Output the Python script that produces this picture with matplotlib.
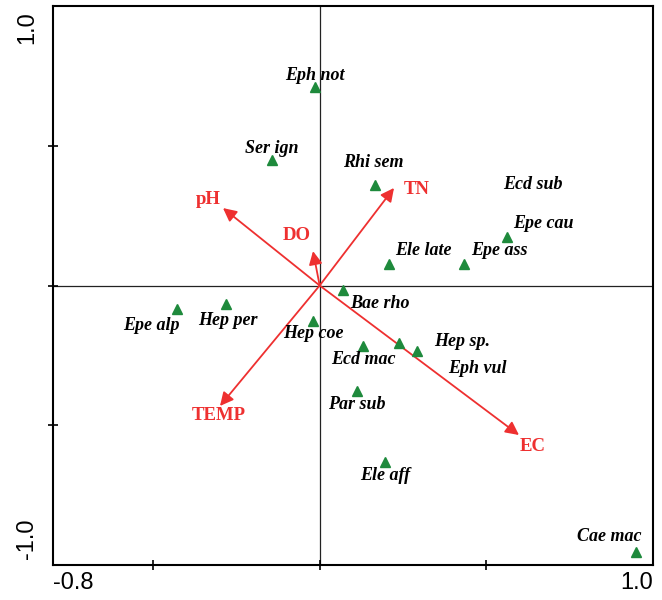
import matplotlib
matplotlib.use("Agg")
import matplotlib.pyplot as plt
from matplotlib.transforms import offset_copy

# Species scores (CCA axis 1, axis 2)
species = ["Eph not", "Ser ign", "Rhi sem", "Ecd sub", "Epe cau", "Ele late",
           "Epe ass", "Bae rho", "Hep coe", "Epe alp", "Hep per", "Ecd mac",
           "Hep sp.", "Eph vul", "Par sub", "Ele aff", "Cae mac"]
sp_x = [-0.014, -0.144, 0.166, 0.640, 0.562, 0.208, 0.433, 0.070, -0.020,
        -0.428, -0.282, 0.130, 0.238, 0.292, 0.112, 0.196, 0.949]
sp_y = [0.710, 0.449, 0.359, 0.360, 0.174, 0.077, 0.077, -0.016, -0.127,
        -0.084, -0.066, -0.216, -0.206, -0.234, -0.377, -0.631, -0.952]
sp_marker = [True, True, True, False, True, True, True, True, True,
             True, True, True, True, True, True, True, True]

# Environmental variable biplot scores
env_vars = ["pH", "DO", "TN", "EC", "TEMP"]
env_x = [-0.290, -0.020, 0.223, 0.598, -0.299]
env_y = [0.277, 0.123, 0.349, -0.535, -0.431]

# Label placement (pixel offsets from the point; +y is up)
sp_off = {
    "Eph not": (0, 12), "Ser ign": (0, 12), "Rhi sem": (-2, 23),
    "Ecd sub": (0, 0), "Epe cau": (36, 13), "Ele late": (34, 13),
    "Epe ass": (35, 13), "Bae rho": (37, -14), "Hep coe": (0, -13),
    "Epe alp": (-26, -17), "Hep per": (2, -17), "Ecd mac": (0, -14),
    "Hep sp.": (63, 2), "Eph vul": (60, -18), "Par sub": (0, -14),
    "Ele aff": (0, -14), "Cae mac": (-27, 15),
}
env_off = {"pH": (-15, 9), "DO": (-16, 16), "TN": (23, -2),
           "EC": (14, -11), "TEMP": (-1, -10)}

RED = "#ee3030"
GREEN = "#1e8a3c"

fig = plt.figure(figsize=(6.62, 6.0), dpi=100)
ax = fig.add_axes([53 / 662, 1 - 565 / 600, 600 / 662, 559 / 600])
ax.set_xlim(-0.8, 1.0)
ax.set_ylim(-1.0, 1.0)

ax.axhline(0, color="#222222", lw=0.9, zorder=1)
ax.axvline(0, color="#222222", lw=0.9, zorder=1)

for s in ax.spines.values():
    s.set_linewidth(1.5)
ax.set_xticks([-0.5, 0, 0.5])
ax.set_yticks([-0.5, 0, 0.5])
ax.set_xticklabels([])
ax.set_yticklabels([])
ax.tick_params(direction="inout", length=7, width=1.2)

# axis end labels
tick_font = dict(family="Liberation Sans", fontsize=17, color="black")
ax.text(0, -0.012, "-0.8", transform=ax.transAxes, ha="left", va="top", **tick_font)
ax.text(1, -0.012, "1.0", transform=ax.transAxes, ha="right", va="top", **tick_font)
ax.text(-0.043, 0.99, "1.0", transform=ax.transAxes, ha="center", va="top",
        rotation=90, **tick_font)
ax.text(-0.043, 0.01, "-1.0", transform=ax.transAxes, ha="center", va="bottom",
        rotation=90, **tick_font)

# species triangles and names
for name, x, y, show in zip(species, sp_x, sp_y, sp_marker):
    if show:
        ax.plot(x, y, marker="^", ms=7, color=GREEN, mec=GREEN, ls="none", zorder=4)
    dx, dy = sp_off[name]
    tr = offset_copy(ax.transData, fig=fig, x=dx, y=dy, units="dots")
    ax.text(x, y, name, transform=tr, ha="center", va="center",
            family="Liberation Serif", style="italic", weight="bold",
            fontsize=13, color="black", zorder=5)

# environmental arrows
for name, x, y in zip(env_vars, env_x, env_y):
    ax.annotate("", xy=(x, y), xytext=(0, 0),
                arrowprops=dict(arrowstyle="-|>", color=RED, lw=1.3,
                                mutation_scale=20, shrinkA=0, shrinkB=0),
                zorder=3)
    dx, dy = env_off[name]
    tr = offset_copy(ax.transData, fig=fig, x=dx, y=dy, units="dots")
    ax.text(x, y, name, transform=tr, ha="center", va="center",
            family="Liberation Serif", weight="bold", fontsize=13.5,
            color=RED, zorder=5)

fig.savefig("out.png", dpi=100)
